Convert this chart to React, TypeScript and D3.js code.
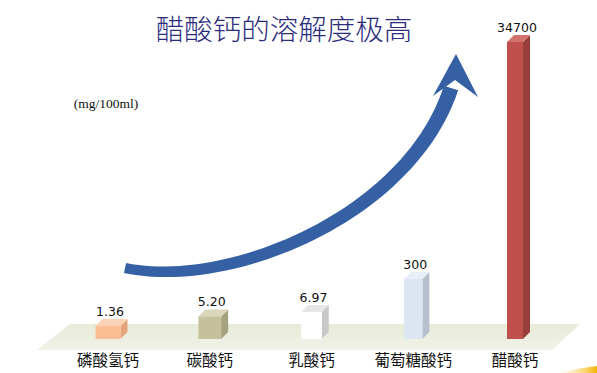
import React, { useEffect, useRef } from 'react';
import * as d3 from 'd3';

// categories and values
const categories = ['磷酸氢钙', '碳酸钙', '乳酸钙', '葡萄糖酸钙', '醋酸钙'];
const values = [1.36, 5.2, 6.97, 300, 34700];
const valueLabels = ['1.36', '5.20', '6.97', '300', '34700'];
const frontColors = ['#fbbd93', '#c5c19c', '#ffffff', '#dce6f2', '#c0504d'];
const sideColors = ['#e6a47c', '#a6a17f', '#c8c8c8', '#b6bfcc', '#983e3b'];
const topColors = ['#fcd3b6', '#d9d6ba', '#e6e6e6', '#e9eff7', '#d2726f'];

// bezier control points of the big arrow (start, c1, c2, end) and its head
const arrowCurve: [number, number][] = [[125, 268], [230, 290], [410, 215], [451, 88]];
const arrowHead: [number, number][] = [[456, 54], [478, 97], [455, 80], [433, 96]];

const W = 597;
const H = 373;

const App: React.FC = () => {
  const svgRef = useRef<SVGSVGElement>(null);

  useEffect(() => {
    document.body.style.margin = '0';
    if (!svgRef.current) return;
    const svg = d3.select(svgRef.current);
    svg.selectAll('*').remove();

    const baseY = 339;
    // the original chart is not drawn to one scale: broken/piecewise axis
    const y = d3.scaleLinear()
      .domain([0, 6.97, 300, 34700])
      .range([baseY - 9.5, baseY - 27, baseY - 60, baseY - 297]);

    const x = d3.scalePoint<string>()
      .domain(categories)
      .range([108, 515]);
    const barW = d3.scaleLinear().domain([0, 4]).range([25, 16]);
    const depth = 7;

    const defs = svg.append('defs');
    const floorGrad = defs.append('linearGradient')
      .attr('id', 'floorGrad')
      .attr('x1', 0).attr('x2', 0).attr('y1', 0).attr('y2', 1);
    floorGrad.append('stop').attr('offset', '0%').attr('stop-color', '#e7ebd8');
    floorGrad.append('stop').attr('offset', '100%').attr('stop-color', '#f0f2e7');

    const yel = defs.append('linearGradient')
      .attr('id', 'yel')
      .attr('x1', 0).attr('x2', 1).attr('y1', 0).attr('y2', 0);
    yel.append('stop').attr('offset', '0%').attr('stop-color', '#fde9a0').attr('stop-opacity', 0);
    yel.append('stop').attr('offset', '100%').attr('stop-color', '#f4b400');

    svg.append('rect').attr('width', W).attr('height', H).attr('fill', '#ffffff');

    // floor
    svg.append('path')
      .attr('d', 'M70,324 L580,324 L552,350 L37,350 Z')
      .attr('fill', 'url(#floorGrad)');

    // bars
    const g = svg.append('g');
    categories.forEach((c, i) => {
      const cx = x(c)!;
      const w = barW(i);
      const x0 = cx - w / 2;
      const x1 = cx + w / 2;
      const yt = y(values[i]);
      // side face
      g.append('path')
        .attr('d', `M${x1},${yt} L${x1 + depth},${yt - depth} L${x1 + depth},${baseY - depth} L${x1},${baseY} Z`)
        .attr('fill', sideColors[i]);
      // top face
      g.append('path')
        .attr('d', `M${x0},${yt} L${x0 + depth},${yt - depth} L${x1 + depth},${yt - depth} L${x1},${yt} Z`)
        .attr('fill', topColors[i]);
      // front face
      g.append('rect')
        .attr('x', x0).attr('y', yt)
        .attr('width', w).attr('height', baseY - yt)
        .attr('fill', frontColors[i]);
      // value label
      g.append('text')
        .attr('x', cx + 2)
        .attr('y', yt - depth - 3)
        .attr('text-anchor', 'middle')
        .attr('font-family', 'DejaVu Sans, Verdana, sans-serif')
        .attr('font-size', 12.5)
        .attr('fill', '#111')
        .text(valueLabels[i]);
      // category label
      g.append('text')
        .attr('x', cx)
        .attr('y', 366)
        .attr('text-anchor', 'middle')
        .attr('font-family', 'Noto Sans CJK SC, sans-serif')
        .attr('font-size', 15.5)
        .attr('fill', '#111')
        .text(c);
    });

    // curved arrow: shaft as a band that widens towards the head
    const [p0, p1, p2, p3] = arrowCurve;
    const bez = (t: number, k: 0 | 1) => {
      const u = 1 - t;
      return u * u * u * p0[k] + 3 * u * u * t * p1[k] + 3 * u * t * t * p2[k] + t * t * t * p3[k];
    };
    const dBez = (t: number, k: 0 | 1) => {
      const u = 1 - t;
      return 3 * u * u * (p1[k] - p0[k]) + 6 * u * t * (p2[k] - p1[k]) + 3 * t * t * (p3[k] - p2[k]);
    };
    const halfW = d3.scaleLinear().domain([0, 1]).range([5, 7.5]);
    const left: [number, number][] = [];
    const right: [number, number][] = [];
    d3.range(0, 1.0001, 0.02).forEach(t => {
      const px = bez(t, 0);
      const py = bez(t, 1);
      const dx = dBez(t, 0);
      const dy = dBez(t, 1);
      const len = Math.hypot(dx, dy);
      const nx = -dy / len;
      const ny = dx / len;
      const hw = halfW(t);
      left.push([px + nx * hw, py + ny * hw]);
      right.push([px - nx * hw, py - ny * hw]);
    });
    const band = left.concat(right.reverse());
    svg.append('path')
      .attr('d', d3.line()(band) + 'Z')
      .attr('fill', '#3561a4');
    svg.append('path')
      .attr('d', d3.line()(arrowHead) + 'Z')
      .attr('fill', '#3561a4');

    // title
    svg.append('text')
      .attr('x', 284)
      .attr('y', 40)
      .attr('text-anchor', 'middle')
      .attr('font-family', 'Noto Sans CJK SC, sans-serif')
      .attr('font-weight', 300)
      .attr('font-size', 28.5)
      .attr('fill', '#2c2c7c')
      .text('醋酸钙的溶解度极高');

    // unit
    svg.append('text')
      .attr('x', 106)
      .attr('y', 108)
      .attr('text-anchor', 'middle')
      .attr('font-family', 'Liberation Serif, Times New Roman, serif')
      .attr('font-size', 13.5)
      .attr('fill', '#111')
      .text('(mg/100ml)');

    // little yellow swoosh at the corner
    svg.append('path')
      .attr('d', 'M556,373 Q580,368 597,366 L597,373 Z')
      .attr('fill', 'url(#yel)');
  }, []);

  return <svg ref={svgRef} width={W} height={H} style={{ display: 'block' }} />;
};

export default App;
